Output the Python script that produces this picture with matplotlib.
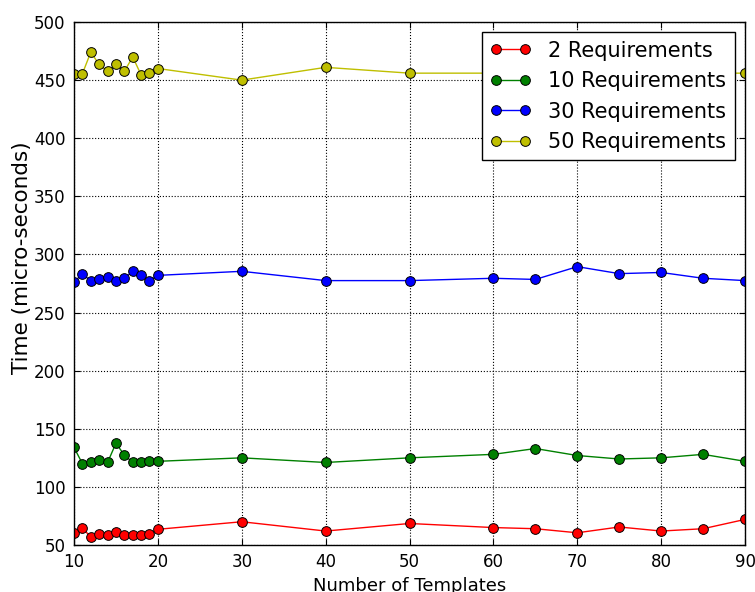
import matplotlib
matplotlib.use("Agg")
import matplotlib.pyplot as plt

templates = [10, 11, 12, 13, 14, 15, 16, 17, 18, 19, 20,
             30, 40, 50, 60, 65, 70, 75, 80, 85, 90]

req_2 = [60, 64.5, 57, 59.5, 58.5, 61, 58.5, 58.5, 58.5, 59.5, 63.5,
         70, 62, 68.5, 65, 64, 60.5, 65.5, 62, 64, 72]
req_10 = [134, 120, 121, 123, 121, 137.5, 127.5, 121, 121, 122, 122,
          125, 121, 125, 128, 133, 127, 124, 125, 128, 122]
req_30 = [276.5, 283, 277.5, 278.5, 281, 277.5, 279.5, 285.5, 282, 277.5, 282,
          285.5, 277.5, 277.5, 279.5, 278.5, 289.5, 283.5, 284.5, 279.5, 277.5]
req_50 = [455, 455.5, 474, 463.5, 457.5, 463.5, 457.5, 470, 454.5, 456.5, 460,
          450, 461, 456, 456, 456, 456, 456, 456, 456, 456]

series = [
    ("2 Requirements", req_2, "r"),
    ("10 Requirements", req_10, (0, 0.5, 0)),
    ("30 Requirements", req_30, "b"),
    ("50 Requirements", req_50, (0.75, 0.75, 0)),
]

fig = plt.figure(figsize=(7.55, 5.92), dpi=100)
ax = fig.add_axes([0.098, 0.0794, 0.8888, 0.8834])

for label, values, color in series:
    ax.plot(templates, values, "-o", color=color, label=label, linewidth=1.0,
            markersize=7, markeredgecolor="k", markeredgewidth=0.7,
            markerfacecolor=color)

ax.set_xlim(10, 90)
ax.set_ylim(50, 500)
ax.set_xticks(range(10, 91, 10))
ax.set_yticks(range(50, 501, 50))
ax.grid(True, color="k", linestyle=":", linewidth=0.8)
ax.tick_params(direction="in", top=True, right=True, labelsize=12,
               length=4, width=0.8, pad=6)
for sp in ax.spines.values():
    sp.set_linewidth(1.0)

ax.set_xlabel("Number of Templates", fontsize=13, labelpad=4)
ax.set_ylabel("Time (micro-seconds)", fontsize=15.5)
ax.yaxis.set_label_coords(-0.063, 0.55)

leg = ax.legend(loc="upper right", fontsize=15, numpoints=2, handlelength=2.0,
                fancybox=False, framealpha=1, edgecolor="k", borderaxespad=0.5,
                borderpad=0.4, labelspacing=0.5, handletextpad=0.8)
leg.get_frame().set_linewidth(1.0)

fig.savefig("out.png", dpi=100, facecolor="white")
